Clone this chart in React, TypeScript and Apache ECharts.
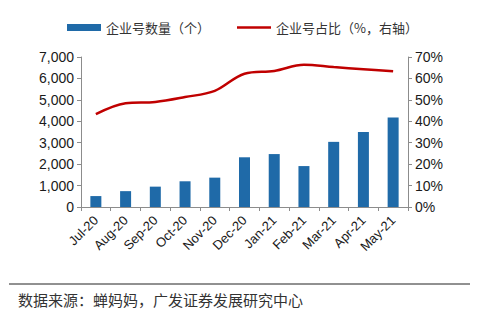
import React, { useEffect, useRef } from "react";
import * as echarts from "echarts";

const categories = ["Jul-20", "Aug-20", "Sep-20", "Oct-20", "Nov-20", "Dec-20", "Jan-21", "Feb-21", "Mar-21", "Apr-21", "May-21"];
const countValues = [510, 740, 950, 1200, 1370, 2320, 2470, 1910, 3040, 3500, 4180];
const shareValues = [43.3, 48.4, 49.0, 51.3, 54.2, 62.2, 63.5, 66.4, 65.3, 64.3, 63.3];
const barName = "企业号数量（个）";
const lineName = "企业号占比（%，右轴）";
const sourceText = "数据来源：蝉妈妈，广发证券发展研究中心";

export default function App() {
  const ref = useRef<HTMLDivElement>(null);
  useEffect(() => {
    if (!ref.current) return;
    const chart = echarts.init(ref.current, undefined, { renderer: "svg" });
    const axisLine = { show: true, lineStyle: { color: "#8c8c8c", width: 1 } };
    const labelFont = { fontFamily: "Liberation Sans, Arial, sans-serif", fontSize: 14, color: "#1a1a1a" };
    chart.setOption({
      animation: false,
      backgroundColor: "#ffffff",
      textStyle: { fontFamily: "Liberation Sans, Arial, sans-serif" },
      legend: {
        left: 62,
        top: 16,
        itemWidth: 34,
        itemHeight: 7,
        itemGap: 27,
        symbolKeepAspect: true,
        textStyle: { fontFamily: "Noto Sans CJK SC", fontSize: 13, color: "#333" },
        data: [
          { name: barName, icon: "rect" },
          { name: lineName, icon: "path://M0,0L34,0L34,2.6L0,2.6Z" },
        ],
      },
      grid: { left: 81, right: 86, top: 57, bottom: 122, containLabel: false },
      xAxis: {
        type: "category",
        data: categories,
        boundaryGap: true,
        axisLine,
        axisTick: { show: true, alignWithLabel: false, length: 4, lineStyle: { color: "#8c8c8c" } },
        axisLabel: { ...labelFont, fontSize: 13, rotate: 45, margin: 11, interval: 0 },
      },
      yAxis: [
        {
          type: "value",
          min: 0,
          max: 7000,
          interval: 1000,
          axisLine,
          axisTick: { show: true, length: 4, lineStyle: { color: "#8c8c8c" } },
          splitLine: { show: false },
          axisLabel: {
            ...labelFont,
            margin: 7,
            formatter: (v: number) => v.toLocaleString("en-US"),
          },
        },
        {
          type: "value",
          min: 0,
          max: 70,
          interval: 10,
          position: "right",
          axisLine,
          axisTick: { show: true, length: 4, lineStyle: { color: "#8c8c8c" } },
          splitLine: { show: false },
          axisLabel: { ...labelFont, margin: 7, formatter: "{value}%" },
        },
      ],
      series: [
        {
          name: barName,
          type: "bar",
          data: countValues,
          barWidth: 11,
          itemStyle: { color: "#1f6aa8" },
          yAxisIndex: 0,
        },
        {
          name: lineName,
          type: "line",
          data: shareValues,
          yAxisIndex: 1,
          smooth: 0.35,
          symbol: "none",
          lineStyle: { color: "#c00000", width: 2.5 },
          itemStyle: { color: "#c00000" },
        },
      ],
      graphic: [
        {
          type: "line",
          shape: { x1: 9, y1: 284, x2: 470, y2: 284 },
          style: { stroke: "#222", lineWidth: 1 },
        },
        {
          type: "text",
          left: 18,
          top: 292,
          style: {
            text: sourceText,
            fontFamily: "Noto Sans CJK SC",
            fontSize: 15,
            fill: "#333",
          },
        },
      ],
    });
    return () => chart.dispose();
  }, []);
  return (
    <div
      ref={ref}
      style={{ position: "fixed", left: 0, top: 0, width: 494, height: 329, background: "#fff" }}
    />
  );
}
